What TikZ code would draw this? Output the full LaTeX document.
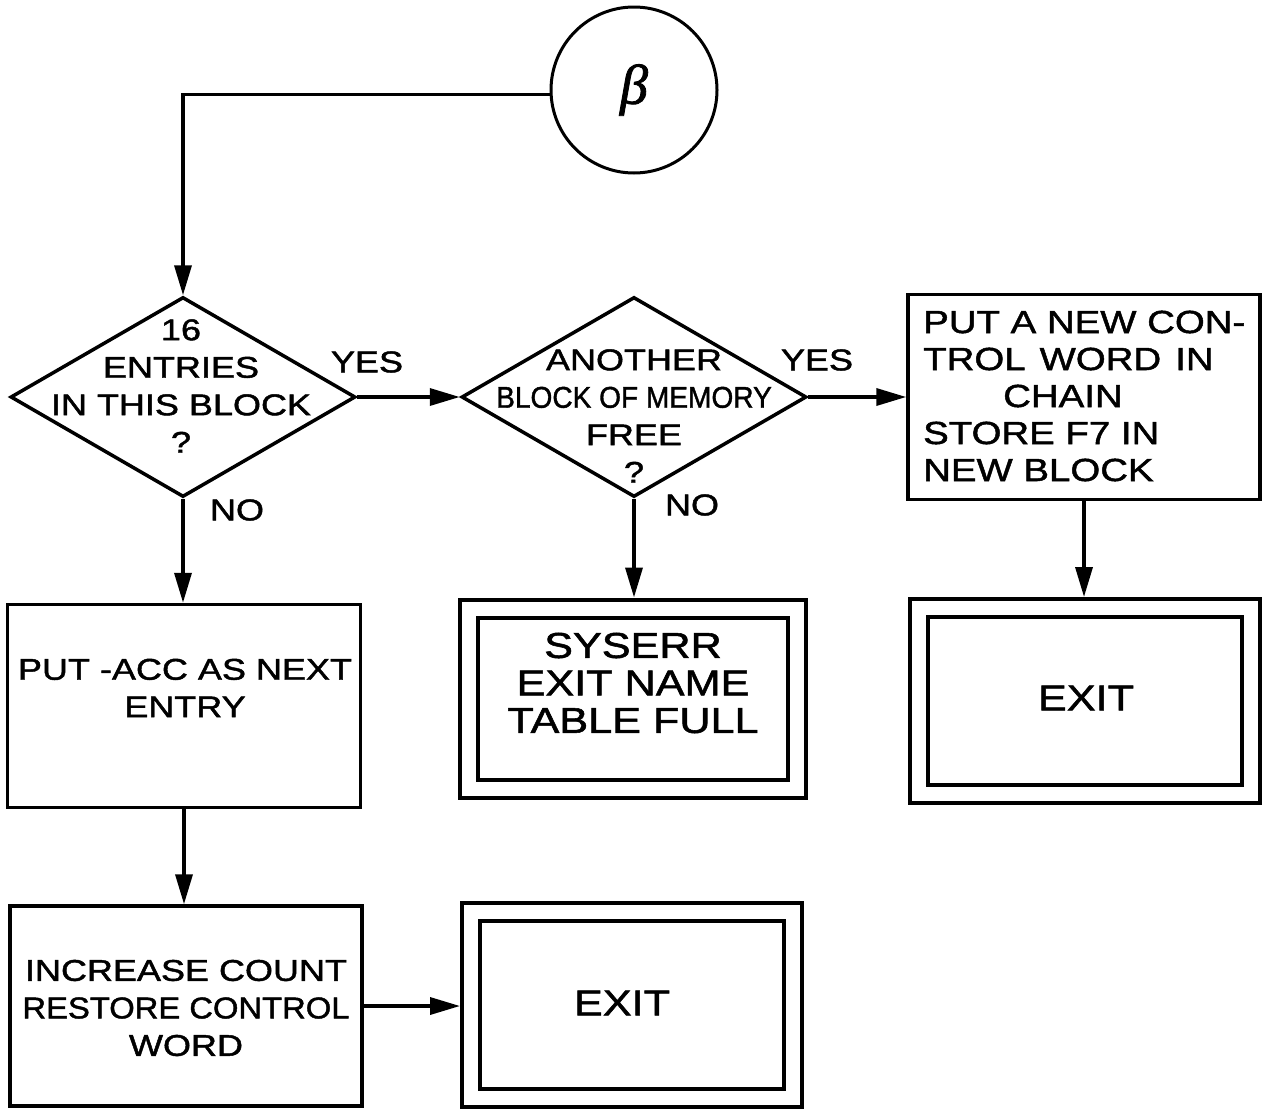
\documentclass[tikz,border=0pt]{standalone}
\usepackage{fontspec}
\setmainfont{Liberation Sans}[FakeStretch=1.2,FakeBold=1.5]
\newfontfamily\greekfont{Liberation Serif}[FakeBold=1.5]
\usetikzlibrary{shapes.geometric,arrows.meta}
\begin{document}
\begin{tikzpicture}[x=1pt,y=-1pt,
  every node/.style={inner sep=0pt},
  conn/.style={line width=3.5pt,-{Triangle[length=30pt,width=17pt]}},
  dec/.style={diamond,draw,line width=3.5pt,minimum width=345pt,minimum height=200pt},
  proc/.style={rectangle,draw,line width=3.5pt},
  term/.style={rectangle,draw,line width=4pt,double,double distance=14pt,outer sep=11pt},
  txt/.style={align=center,font=\fontsize{30}{37.5}\selectfont},
  widetxt/.style={align=left,font=\fontsize{32}{37}\selectfont},
  bigtxt/.style={align=center,font=\fontsize{36}{37.5}\selectfont},
  lbl/.style={font=\fontsize{30}{36}\selectfont}]
\useasboundingbox (0,0) rectangle (1273,1111);

% entry connector
\node[circle,draw,line width=3pt,minimum size=166pt] (c) at (634,90)
  {\greekfont\itshape\fontsize{56}{56}\selectfont β};

% decisions
\node[dec] (d1) at (183,397) {};
\node[txt] (t1) at (181,386) {16\\ENTRIES\\IN THIS BLOCK\\?};
\node[dec] (d2) at (634,397) {};
\node[txt] (t2) at (634,416) {ANOTHER\\\scalebox{0.78}[1]{BLOCK OF MEMORY}\\FREE\\?};

% process boxes
\node[proc,minimum width=352pt,minimum height=205pt] (b3) at (1084,397) {};
\node[widetxt,anchor=west] (t3) at (923,396)
  {PUT A NEW CON-\\TROL\hspace{14pt}WORD\hspace{14pt}IN\\\hspace*{80pt}CHAIN\\STORE F7 IN\\NEW BLOCK};
\node[proc,minimum width=353pt,minimum height=203pt] (b4) at (184,706) {};
\node[txt] (t4) at (185,688) {PUT -ACC AS NEXT\\ENTRY};
\node[proc,minimum width=352pt,minimum height=200pt] (b5) at (186,1006) {};
\node[txt] (t5) at (186,1008) {INCREASE COUNT\\\scalebox{0.91}[1]{RESTORE CONTROL}\\WORD};

% terminals
\node[term,minimum width=328pt,minimum height=180pt] (e1) at (633,698.5) {};
\node[bigtxt] (t6) at (633,683) {SYSERR\\EXIT NAME\\TABLE FULL};
\node[term,minimum width=332pt,minimum height=186pt] (e2) at (1085,701) {};
\node[bigtxt] (t7) at (1086,698) {EXIT};
\node[term,minimum width=322pt,minimum height=186pt] (e3) at (632,1005) {};
\node[bigtxt] (t8) at (622,1003) {EXIT};

% branch labels
\node[lbl] (y1) at (367,362) {YES};
\node[lbl] (y2) at (817,360) {YES};
\node[lbl] (n1) at (237,510) {NO};
\node[lbl] (n2) at (692,505) {NO};

% connectors
\draw[conn] (c.183) -| (d1.north);
\draw[conn] (d1.east) -- (d2.west);
\draw[conn] (d2.east) -- (b3.west);
\draw[conn] (d1.south) -- (d1.south |- b4.north);
\draw[conn] (b4.south) -- (b4.south |- b5.north);
\draw[conn] (b5.east) -- (b5.east -| e3.west);
\draw[conn] (d2.south) -- (d2.south |- e1.north);
\draw[conn] (b3.south) -- (b3.south |- e2.north);
\end{tikzpicture}
\end{document}
